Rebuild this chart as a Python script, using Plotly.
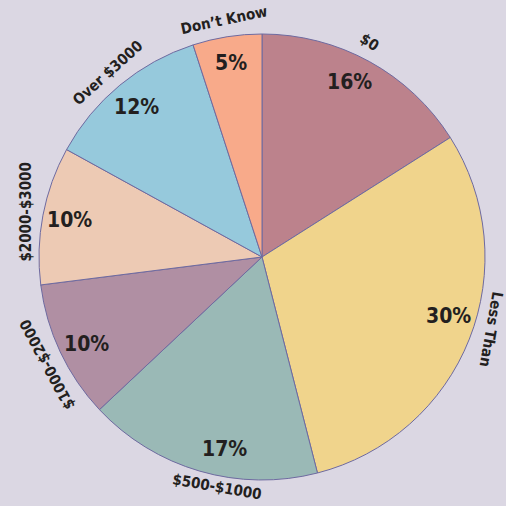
import math
import plotly.graph_objects as go

labels = ["$0", "Less Than", "$500-$1000", "$1000-$2000", "$2000-$3000", "Over $3000", "Don\u2019t Know"]
values = [16, 30, 17, 10, 10, 12, 5]
colors = ["#BC828C", "#F0D48C", "#9AB9B6", "#B08FA3", "#EDCAB4", "#96C9DC", "#F8AA8A"]

# label placement (style): angle clockwise from 12 o'clock, radius and text rotation
place_angles = [26.5, 107.5, 191, 243.5, 281, 320, 351]
label_radius = [240, 240, 234, 240, 240, 240, 240]
label_rot = [33, 100, 10, -118, -90, -42, -12]

W = H = 506
CX, CY, R = 262, 257, 223
FONT = "Liberation Sans Narrow, DejaVu Sans Condensed, Arial Narrow, sans-serif"

fig = go.Figure(go.Pie(
    labels=labels, values=values, sort=False, direction="clockwise", rotation=0,
    marker=dict(colors=colors, line=dict(color="#6E6AA0", width=1)),
    textinfo="none", hoverinfo="label+percent", showlegend=False,
    domain=dict(x=[(CX - R) / W, (CX + R) / W], y=[1 - (CY + R) / H, 1 - (CY - R) / H]),
))

total = sum(values)
annotations = []
for lab, v, pa, lr, ta in zip(labels, values, place_angles, label_radius, label_rot):
    a = math.radians(pa)
    px = CX + 196 * math.sin(a)
    py = CY - 196 * math.cos(a)
    annotations.append(dict(x=px / W, y=1 - py / H, xref="paper", yref="paper",
                            xanchor="center", yanchor="middle",
                            text=f"{round(v / total * 100)}%", showarrow=False,
                            font=dict(family=FONT, size=21, color="#231F20", weight="bold")))
    ox = CX + lr * math.sin(a)
    oy = CY - lr * math.cos(a)
    annotations.append(dict(x=ox / W, y=1 - oy / H, xref="paper", yref="paper",
                            xanchor="center", yanchor="middle",
                            text=lab, showarrow=False, textangle=ta,
                            font=dict(family=FONT, size=15, color="#231F20", weight="bold")))

fig.update_layout(
    width=W, height=H, margin=dict(l=0, r=0, t=0, b=0),
    paper_bgcolor="#DBD7E3", plot_bgcolor="#DBD7E3",
    annotations=annotations,
)
fig.write_html("out.html", config={"displayModeBar": False},
               post_script="document.body.style.margin='0px';document.body.style.overflow='hidden';")
